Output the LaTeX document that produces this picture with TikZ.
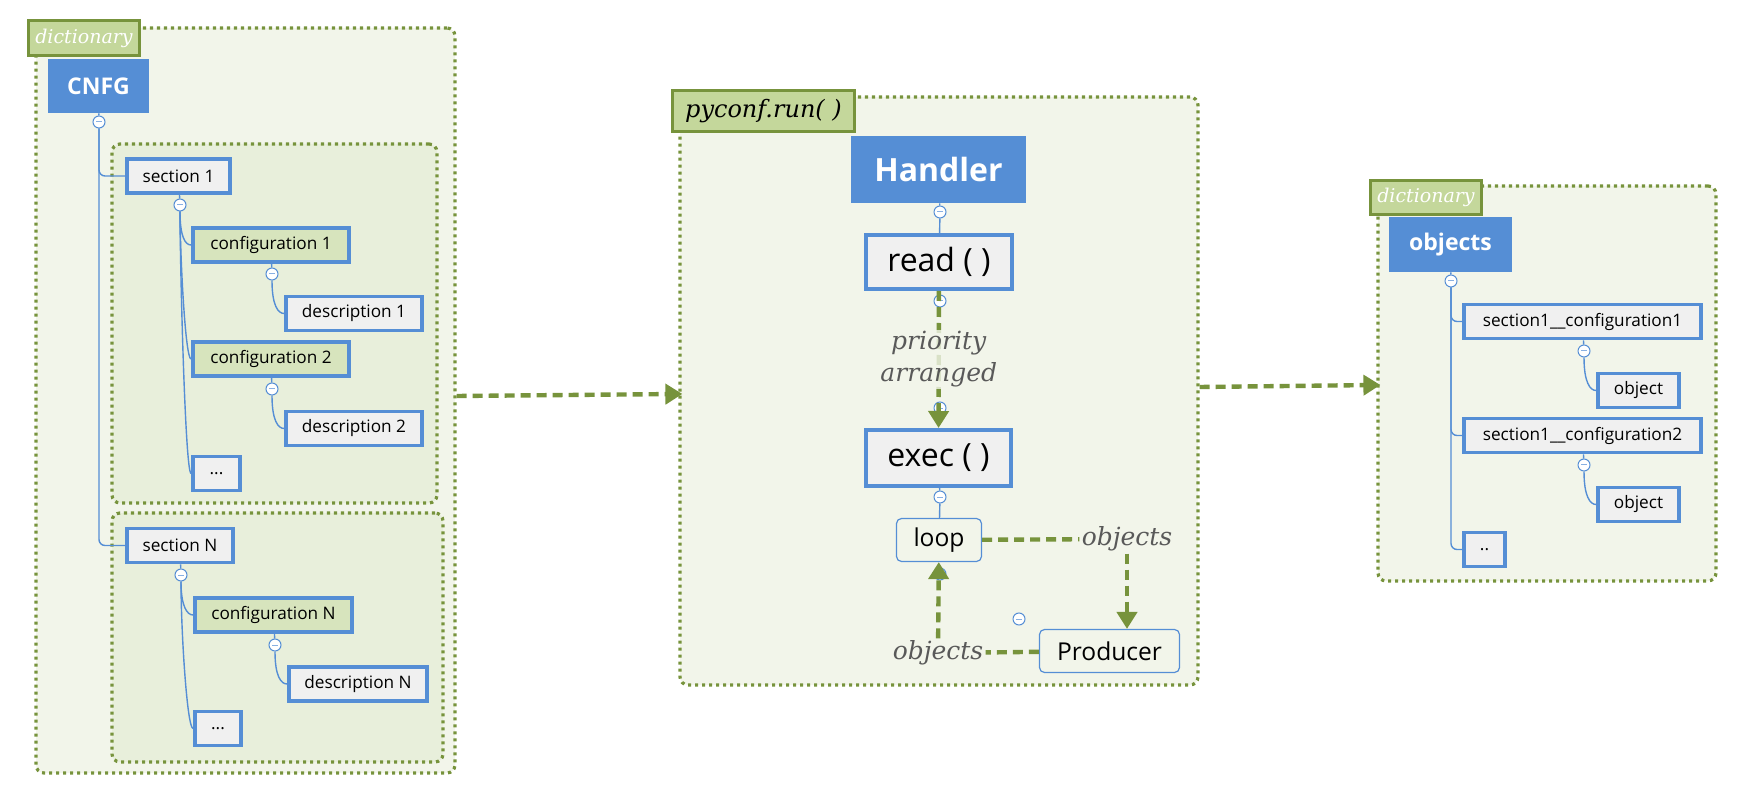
\documentclass[tikz,border=0pt]{standalone}
\usepackage{fontspec}
\setmainfont{Open Sans}
\newfontfamily\serifit{DejaVu Serif}
\usetikzlibrary{arrows.meta}
\definecolor{frameg}{HTML}{77933C}
\definecolor{tagg}{HTML}{C4D79B}
\definecolor{paleg}{HTML}{F2F5EA}
\definecolor{innerg}{HTML}{E8EFDB}
\definecolor{confg}{HTML}{D7E4BD}
\definecolor{nodeblue}{HTML}{558ED5}
\definecolor{boxgray}{HTML}{F0F0F0}
\definecolor{labelgray}{HTML}{595959}

\begin{document}
\begin{tikzpicture}[x=0.5pt,y=-0.5pt]
\tikzstyle{frame}=[draw=frameg,fill=paleg,line width=1.6pt,dash pattern=on 1.6pt off 1.9pt,rounded corners=4pt,inner sep=0pt]
\tikzstyle{inner}=[frame,fill=innerg]
\tikzstyle{tag}=[draw=frameg,fill=tagg,line width=1.6pt,inner sep=0pt,text=white,font=\serifit\itshape\fontsize{9.5}{11}\selectfont]
\tikzstyle{head}=[fill=nodeblue,text=white,inner sep=0pt,font=\bfseries\fontsize{11.5}{13}\selectfont]
\tikzstyle{item}=[draw=nodeblue,fill=boxgray,line width=1.9pt,inner sep=0pt,minimum height=17pt,font=\fontsize{8.6}{10}\selectfont]
\tikzstyle{conf}=[item,fill=confg]
\tikzstyle{call}=[item,line width=2pt,font=\fontsize{16}{18}\selectfont]
\tikzstyle{task}=[draw=nodeblue,fill=paleg,line width=0.6pt,rounded corners=2.5pt,inner sep=0pt,font=\fontsize{12.3}{14}\selectfont]
\tikzstyle{toggle}=[circle,draw=nodeblue,fill=white,line width=0.5pt,minimum size=6pt,inner sep=0pt]
\tikzstyle{branch}=[draw=nodeblue,line width=0.7pt]
\tikzstyle{flow}=[draw=frameg,line width=2.2pt,dash pattern=on 5pt off 3pt]
\tikzstyle{tip}=[-{Triangle[length=8.5pt,width=10pt]}]
\tikzstyle{note}=[fill=paleg,inner sep=1pt,text=labelgray,font=\serifit\itshape\fontsize{12.5}{16}\selectfont]
\newcommand{\minus}{{\color{nodeblue!70}\rule{2.6pt}{0.5pt}}}
\useasboundingbox (0,0) rectangle (1745,807);

% left dictionary
\node[frame,minimum width=209.5pt,minimum height=372.5pt] (dictL) at (245.5,400.5) {};
\node[inner,minimum width=162.5pt,minimum height=179.5pt] (box1) at (274.5,323.5) {};
\node[inner,minimum width=165.5pt,minimum height=124.5pt] (boxN) at (277.5,637.5) {};
\node[tag,minimum width=55.5pt,minimum height=17.5pt] (tagL) at (84,38) {dictionary};
\node[head,minimum width=50.5pt,minimum height=27pt] (cnfg) at (98.5,86) {CNFG};
\node[toggle] (tc) at (99,122) {\minus};
\node[item,minimum width=51.5pt] (s1) at (178.5,176) {section 1};
\node[toggle] (t1) at (180,205) {\minus};
\node[conf,minimum width=78pt] (c1) at (271,245) {configuration 1};
\node[toggle] (t11) at (272,274) {\minus};
\node[item,minimum width=68pt] (d1) at (354,313.5) {description 1};
\node[conf,minimum width=78pt] (c2) at (271,359) {configuration 2};
\node[toggle] (t12) at (272,389) {\minus};
\node[item,minimum width=68pt] (d2) at (354,428.5) {description 2};
\node[item,minimum width=23.5pt] (e1) at (216.5,473.5) {...};
\node[item,minimum width=53pt] (sN) at (180,545.5) {section N};
\node[toggle] (t2) at (181,575) {\minus};
\node[conf,minimum width=78.5pt] (cN) at (273.5,615) {configuration N};
\node[toggle] (t21) at (275,645) {\minus};
\node[item,minimum width=69pt] (dN) at (358,684) {description N};
\node[item,minimum width=23pt] (e2) at (218,728.5) {...};
\draw[branch] (cnfg) -- (tc);
\draw[branch,rounded corners=3pt] (tc.south) |- (s1.west);
\draw[branch,rounded corners=3pt] (tc.south) |- (sN.west);
\draw[branch] (s1) -- (t1);
\draw[branch] (t1.south) .. controls +(0,25) and +(-6,0) .. (c1.west);
\draw[branch] (t1.south) .. controls +(0,40) and +(-6,0) .. (c2.west);
\draw[branch] (t1.south) .. controls +(0,50) and +(-6,0) .. (e1.west);
\draw[branch] (c1) -- (t11);
\draw[branch] (t11.south) .. controls +(0,25) and +(-6,0) .. (d1.west);
\draw[branch] (c2) -- (t12);
\draw[branch] (t12.south) .. controls +(0,25) and +(-6,0) .. (d2.west);
\draw[branch] (sN) -- (t2);
\draw[branch] (t2.south) .. controls +(0,25) and +(-6,0) .. (cN.west);
\draw[branch] (t2.south) .. controls +(0,50) and +(-6,0) .. (e2.west);
\draw[branch] (cN) -- (t21);
\draw[branch] (t21.south) .. controls +(0,25) and +(-6,0) .. (dN.west);

% pyconf.run
\node[frame,minimum width=259pt,minimum height=294pt] (run) at (939,391) {};
\node[tag,text=black,font=\serifit\itshape\fontsize{12}{14}\selectfont,minimum width=91pt,minimum height=20.5pt] (tagM) at (763.5,111) {pyconf.run( )};
\node[head,font=\bfseries\fontsize{16}{18}\selectfont,minimum width=87.5pt,minimum height=33.5pt] (handler) at (938.5,169.5) {Handler};
\node[toggle] (th) at (940,212) {\minus};
\node[call,minimum width=73pt,minimum height=27pt] (read) at (939,262) {read ( )};
\node[toggle] (tr) at (940,301) {\minus};
\node[toggle] (tx0) at (940,408) {\minus};
\node[call,minimum width=72.5pt,minimum height=28pt] (exec) at (938.5,458) {exec ( )};
\node[toggle] (tx) at (940,497) {\minus};
\node[task,minimum width=42.5pt,minimum height=21.5pt] (loop) at (939,540) {loop};
\node[toggle] (tl) at (940,574) {\minus};
\node[toggle] (tp) at (1019,619) {\minus};
\node[task,minimum width=70pt,minimum height=21.5pt] (prod) at (1109.5,651) {Producer};
\node[note] (objR) at (1127,539) {objects};
\node[note] (objL) at (938,653) {objects};
\draw[branch] (handler) -- (th);
\draw[branch] (th) -- (read);
\draw[branch] (exec) -- (tx);
\draw[branch] (tx) -- (loop);
\draw[flow,tip] (read) -- node[note,align=center,fill opacity=0.8,text opacity=1] (prio) {priority\\arranged} (exec);
\draw[flow] (loop) -- (objR);
\draw[flow,tip] (objR) -- (objR |- prod.north);
\draw[flow] (prod) -- (objL);
\draw[flow,tip] (objL) -- (loop);

% right dictionary
\node[frame,minimum width=169pt,minimum height=197.5pt] (dictR) at (1547,383.5) {};
\node[tag,minimum width=55.5pt,minimum height=17pt] (tagR) at (1426,197.5) {dictionary};
\node[head,minimum width=61.5pt,minimum height=27.5pt] (objs) at (1450.5,244.5) {objects};
\node[toggle] (to) at (1451,281) {\minus};
\node[item,minimum width=118.5pt] (sc1) at (1582.5,321.5) {section1\_\_configuration1};
\node[toggle] (ts1) at (1584,351) {\minus};
\node[item,minimum width=40.5pt] (o1) at (1638.5,390.5) {object};
\node[item,minimum width=118.5pt] (sc2) at (1582.5,435.5) {section1\_\_configuration2};
\node[toggle] (ts2) at (1584,465) {\minus};
\node[item,minimum width=40.5pt] (o2) at (1638.5,504.5) {object};
\node[item,minimum width=20.5pt] (dd) at (1484.5,549.5) {..};
\draw[branch] (objs) -- (to);
\draw[branch,rounded corners=3pt] (to.south) |- (sc1.west);
\draw[branch,rounded corners=3pt] (to.south) |- (sc2.west);
\draw[branch,rounded corners=3pt] (to.south) |- (dd.west);
\draw[branch] (sc1) -- (ts1);
\draw[branch] (ts1.south) .. controls +(0,25) and +(-6,0) .. (o1.west);
\draw[branch] (sc2) -- (ts2);
\draw[branch] (ts2.south) .. controls +(0,25) and +(-6,0) .. (o2.west);

% between the boxes
\draw[flow,tip,shorten >=-2pt] ([yshift=2.25pt]dictL.east) -- ([yshift=-1.5pt]run.west);
\draw[flow,tip,shorten >=-2pt] ([yshift=2pt]run.east) -- ([yshift=-0.75pt]dictR.west);
\end{tikzpicture}
\end{document}
